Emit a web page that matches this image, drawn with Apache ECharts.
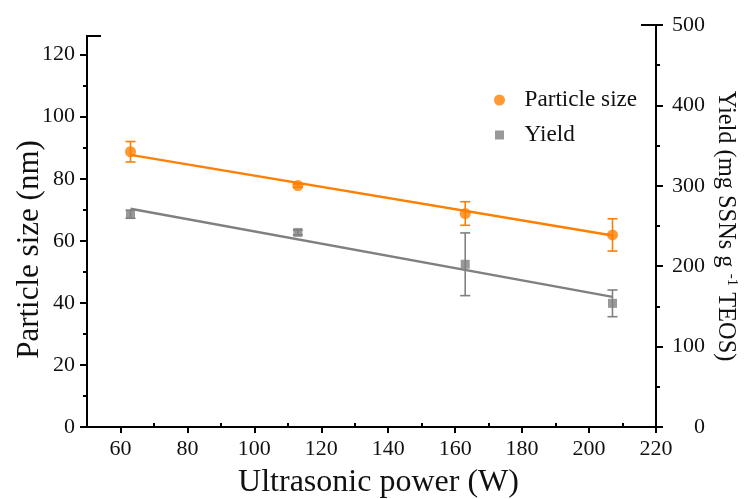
<!DOCTYPE html>
<html>
<head>
<meta charset="utf-8">
<script src="https://cdn.jsdelivr.net/npm/echarts@6/dist/echarts.min.js"></script>
<style>html,body{margin:0;padding:0;background:#fff}#c{width:748px;height:499px}</style>
</head>
<body>
<div id="c"></div>
<script>
// ---- data ----
const power = [63, 113, 163, 207];
const particleSize = [88.7, 77.8, 68.8, 61.9];
const particleErr = [3.3, 0.5, 3.8, 5.2];
const yieldVal = [264.6, 242, 202.4, 153.8];
const yieldErr = [5, 3, 39, 16.6];
const fitX = [63, 207];
const particleFit = [87.7, 61.7];
const yieldFit = [271.5, 161.8];
const xTicks = [60, 80, 100, 120, 140, 160, 180, 200, 220];
const xMinor = [70, 90, 110, 130, 150, 170, 190, 210];
const leftTicks = [0, 20, 40, 60, 80, 100, 120];
const leftMinor = [10, 30, 50, 70, 90, 110];
const rightTicks = [0, 100, 200, 300, 400, 500];
const rightMinor = [50, 150, 250, 350, 450];

const ORANGE = '#FF8000';
const GRAY = '#808080';
const FONT = 'Liberation Serif';
const TXT = '#111';

const pts = (xs, ys) => xs.map((x, i) => [x, ys[i]]);
const errData = (xs, ys, es) => xs.map((x, i) => [x, ys[i], es[i]]);

function errRender(color) {
  return function (params, api) {
    const x = api.value(0), y = api.value(1), e = api.value(2);
    const t = api.coord([x, y + e]), b = api.coord([x, y - e]);
    const hw = 5;
    const st = { stroke: color, lineWidth: 1.6 };
    return { type: 'group', children: [
      { type: 'line', shape: { x1: t[0], y1: t[1], x2: b[0], y2: b[1] }, style: st },
      { type: 'line', shape: { x1: t[0] - hw, y1: t[1], x2: t[0] + hw, y2: t[1] }, style: st },
      { type: 'line', shape: { x1: b[0] - hw, y1: b[1], x2: b[0] + hw, y2: b[1] }, style: st }
    ]};
  };
}

const axLine = { show: true, lineStyle: { color: '#000', width: 2 } };
const lbl = { color: TXT, fontFamily: FONT, fontSize: 22 };

const chart = echarts.init(document.getElementById('c'), null, { renderer: 'canvas' });
chart.setOption({
  animation: false,
  backgroundColor: '#fff',
  grid: [
    { left: 87, right: 92, top: 36, bottom: 72, containLabel: false, outerBoundsMode: 'none' },
    { left: 87, right: 92, top: 25, bottom: 72, containLabel: false, outerBoundsMode: 'none' }
  ],
  legend: {
    left: 489, top: 83, orient: 'vertical',
    itemWidth: 40, itemHeight: 11, itemGap: 11,
    textStyle: { color: TXT, fontFamily: FONT, fontSize: 23.2, lineHeight: 24 },
    data: [
      { name: 'Particle size', icon: 'circle' },
      { name: 'Yield', icon: 'path://M0,0L0,0M1,1H10V10H1ZM11,11L11,11' }
    ]
  },
  xAxis: [
    { gridIndex: 0, type: 'value', min: 50, max: 220,
      axisLine: axLine,
      axisTick: { show: true, inside: false, length: 6, customValues: xTicks, lineStyle: { color: '#000', width: 2 } },
      axisLabel: Object.assign({ margin: 11, customValues: xTicks }, lbl),
      splitLine: { show: false },
      name: 'Ultrasonic power (W)', nameLocation: 'middle', nameGap: 40, nameMoveOverlap: false,
      nameTextStyle: { color: TXT, fontFamily: FONT, fontSize: 32, padding: [0, 0, 0, 14] } },
    { gridIndex: 0, type: 'value', min: 50, max: 220,
      axisLine: { show: false },
      axisTick: { show: true, length: 4, customValues: xMinor, lineStyle: { color: '#000', width: 2 } },
      axisLabel: { show: false }, splitLine: { show: false } },
    { gridIndex: 1, type: 'value', min: 50, max: 220, show: false }
  ],
  yAxis: [
    { gridIndex: 0, type: 'value', position: 'left', min: 0, max: 126,
      axisLine: axLine,
      axisTick: { show: true, length: 7, customValues: leftTicks, lineStyle: { color: '#000', width: 2 } },
      axisLabel: Object.assign({ margin: 12, customValues: leftTicks }, lbl),
      splitLine: { show: false },
      name: 'Particle size (nm)', nameLocation: 'middle', nameGap: 42, nameMoveOverlap: false,
      nameTextStyle: { color: TXT, fontFamily: FONT, fontSize: 31, padding: [0, 36, 0, 0] } },
    { gridIndex: 0, type: 'value', position: 'left', min: 0, max: 126,
      axisLine: { show: false },
      axisTick: { show: true, length: 4, customValues: leftMinor, lineStyle: { color: '#000', width: 2 } },
      axisLabel: { show: false }, splitLine: { show: false } },
    { gridIndex: 1, type: 'value', position: 'right', min: 0, max: 500,
      axisLine: axLine,
      axisTick: { show: true, length: 7, customValues: rightTicks, lineStyle: { color: '#000', width: 2 } },
      axisLabel: Object.assign({ margin: 49, align: 'right', customValues: rightTicks }, lbl),
      splitLine: { show: false },
      name: 'Yield (mg SSNs g {sup|-1} TEOS)', nameLocation: 'middle', nameGap: 56, nameRotate: -90, nameMoveOverlap: false,
      nameTextStyle: { color: TXT, fontFamily: FONT, fontSize: 24.4, lineHeight: 27,
        rich: { sup: { fontFamily: FONT, fontSize: 15, color: TXT, verticalAlign: 'top', lineHeight: 15 } } } },
    { gridIndex: 1, type: 'value', position: 'right', min: 0, max: 500,
      axisLine: { show: false },
      axisTick: { show: true, length: 4, customValues: rightMinor, lineStyle: { color: '#000', width: 2 } },
      axisLabel: { show: false }, splitLine: { show: false } }
  ],
  graphic: [
    { type: 'line', shape: { x1: 86, y1: 36, x2: 101, y2: 36 }, style: { stroke: '#000', lineWidth: 2 } },
    { type: 'line', shape: { x1: 641, y1: 25, x2: 657, y2: 25 }, style: { stroke: '#000', lineWidth: 2 } }
  ],
  series: [
    { name: 'particleFit', type: 'line', xAxisIndex: 0, yAxisIndex: 0, data: pts(fitX, particleFit),
      showSymbol: false, symbol: 'none', lineStyle: { color: ORANGE, width: 2.4 }, silent: true, z: 2 },
    { name: 'yieldFit', type: 'line', xAxisIndex: 2, yAxisIndex: 2, data: pts(fitX, yieldFit),
      showSymbol: false, symbol: 'none', lineStyle: { color: GRAY, width: 2.4 }, silent: true, z: 2 },
    { name: 'particleErr', type: 'custom', xAxisIndex: 0, yAxisIndex: 0,
      data: errData(power, particleSize, particleErr), renderItem: errRender(ORANGE),
      encode: { x: 0, y: 1 }, z: 3 },
    { name: 'yieldErr', type: 'custom', xAxisIndex: 2, yAxisIndex: 2,
      data: errData(power, yieldVal, yieldErr), renderItem: errRender(GRAY),
      encode: { x: 0, y: 1 }, z: 3 },
    { name: 'Particle size', type: 'scatter', xAxisIndex: 0, yAxisIndex: 0, data: pts(power, particleSize),
      symbol: 'circle', symbolSize: 11, itemStyle: { color: ORANGE }, z: 4 },
    { name: 'Yield', type: 'scatter', xAxisIndex: 2, yAxisIndex: 2, data: pts(power, yieldVal),
      symbol: 'rect', symbolSize: 9, itemStyle: { color: GRAY }, z: 4 }
  ]
});
</script>
</body>
</html>
